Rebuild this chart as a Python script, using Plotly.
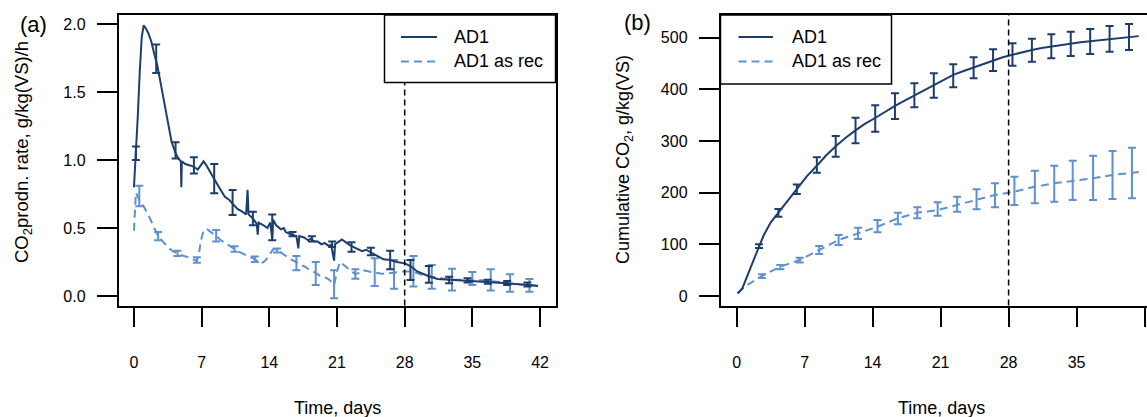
import plotly.graph_objects as go

# ---------------- data ----------------
# Panel (a): CO2 production rate, g/kg(VS)/h
rate_ad1_days = [0.0, 0.1, 0.2, 0.4, 0.6, 0.8, 1.0, 1.2, 1.5, 1.8, 2.1, 2.4, 2.8, 3.2, 3.5, 3.9,
                 4.3, 4.6, 4.85, 4.9, 4.95, 5.3, 5.8, 6.2, 6.6, 7.0, 7.2, 7.5, 8.0, 8.3, 8.8, 9.4,
                 9.8, 10.2, 10.7, 11.2, 11.6, 11.75, 11.85, 12.3, 12.7, 12.8, 12.9, 13.4, 13.8, 14.1,
                 14.3, 14.4, 14.7, 15.2, 15.5, 15.7, 16.0, 16.3, 16.8, 17.0, 17.1, 17.6, 18.0, 18.3,
                 18.7, 19.0, 19.4, 19.7, 20.1, 20.4, 20.7, 20.8, 21.2, 21.5, 22.0, 22.4, 23.0, 23.6,
                 24.0, 24.5, 25.2, 25.8, 26.5, 27.2, 28.0, 28.6, 29.3, 30.5, 31.4, 32.6, 34.5, 36.6,
                 38.6, 40.9, 41.8]
rate_ad1 = [0.80, 0.92, 1.05, 1.33, 1.65, 1.90, 1.99, 1.97, 1.93, 1.87, 1.78, 1.70, 1.55, 1.39, 1.27, 1.13,
            1.05, 1.01, 0.99, 0.80, 0.99, 0.97, 0.96, 0.95, 0.93, 0.97, 0.99, 0.96, 0.89, 0.86, 0.80, 0.73,
            0.71, 0.68, 0.64, 0.62, 0.60, 0.78, 0.60, 0.57, 0.53, 0.45, 0.54, 0.52, 0.50, 0.54,
            0.42, 0.56, 0.52, 0.49, 0.50, 0.47, 0.46, 0.45, 0.44, 0.35, 0.44, 0.43, 0.41, 0.42,
            0.40, 0.40, 0.38, 0.39, 0.37, 0.375, 0.26, 0.38, 0.40, 0.415, 0.39, 0.37, 0.35, 0.33,
            0.34, 0.32, 0.29, 0.27, 0.265, 0.25, 0.24, 0.22, 0.18, 0.145, 0.125, 0.12, 0.115, 0.105,
            0.093, 0.08, 0.074]

rate_rec_days = [0.0, 0.1, 0.2, 0.4, 0.7, 1.0, 1.6, 2.1, 2.5, 3.0, 3.5, 4.0, 4.5, 4.9, 5.6, 6.0, 6.5,
                 6.7, 6.9, 7.2, 7.6, 8.0, 8.5, 9.0, 9.4, 10.0, 10.4, 11.0, 11.6, 12.0, 12.5, 13.2,
                 13.6, 14.0, 14.4, 14.8, 15.6, 16.2, 16.8, 17.2, 17.7, 18.2, 18.8, 19.2, 19.7, 20.2,
                 20.7, 21.0, 21.3, 21.8, 22.3, 22.9, 23.3, 23.7, 24.3, 24.9, 25.5, 26.1, 26.9, 27.7,
                 28.5, 29.2, 30.0, 30.8, 31.8, 32.9, 34.0, 35.0, 36.0, 36.9, 38.0, 38.9, 40.0, 40.9, 41.7]
rate_rec = [0.48, 0.65, 0.76, 0.73, 0.68, 0.66, 0.58, 0.50, 0.44, 0.40, 0.36, 0.33, 0.31, 0.30, 0.285, 0.27, 0.26,
            0.30, 0.40, 0.485, 0.49, 0.47, 0.44, 0.41, 0.39, 0.36, 0.345, 0.32, 0.30, 0.285, 0.27, 0.24,
            0.26, 0.30, 0.345, 0.34, 0.30, 0.27, 0.25, 0.23, 0.215, 0.19, 0.17, 0.15, 0.142, 0.12,
            0.08, 0.18, 0.25, 0.22, 0.19, 0.16, 0.17, 0.19, 0.18, 0.17, 0.165, 0.164, 0.17, 0.18,
            0.18, 0.17, 0.15, 0.14, 0.13, 0.12, 0.12, 0.12, 0.115, 0.11, 0.10, 0.095, 0.085, 0.08, 0.075]

rate_ad1_err_days = [0.2, 2.3, 4.3, 6.2, 8.3, 10.2, 12.3, 14.3, 16.4, 18.4, 20.5, 22.5, 24.5, 26.5,
                     28.6, 30.5, 32.6, 34.5, 36.6, 38.6, 40.7]
rate_ad1_lo = [1.00, 1.64, 1.01, 0.90, 0.755, 0.595, 0.52, 0.41, 0.44, 0.40, 0.36, 0.326, 0.30, 0.196,
               0.118, 0.098, 0.093, 0.10, 0.09, 0.08, 0.07]
rate_ad1_hi = [1.10, 1.85, 1.13, 1.02, 0.97, 0.78, 0.62, 0.60, 0.47, 0.44, 0.40, 0.395, 0.355, 0.333,
               0.265, 0.22, 0.142, 0.13, 0.12, 0.11, 0.10]

rate_rec_err_days = [0.55, 2.5, 4.5, 6.5, 8.5, 10.4, 12.5, 14.8, 16.8, 18.8, 20.7, 22.9, 24.9, 26.9,
                     28.9, 30.8, 32.9, 35.0, 36.9, 38.9, 40.9]
rate_rec_lo = [0.66, 0.41, 0.294, 0.245, 0.40, 0.326, 0.25, 0.32, 0.19, 0.08, -0.017, 0.127, 0.074, 0.054,
               0.069, 0.054, 0.04, 0.08, 0.04, 0.032, 0.032]
rate_rec_hi = [0.81, 0.47, 0.333, 0.285, 0.485, 0.365, 0.29, 0.35, 0.294, 0.25, 0.19, 0.196, 0.277, 0.265,
               0.294, 0.228, 0.20, 0.176, 0.196, 0.16, 0.125]

# Panel (b): cumulative CO2, g/kg(VS)
cum_ad1_days = [0.1, 0.6, 1.5, 2.3, 2.8, 3.5, 4.3, 5.2, 6.2, 7.2, 8.3, 9.2, 10.2, 11.2, 12.2, 13.2,
                14.3, 15.3, 16.3, 17.3, 18.3, 19.3, 20.3, 21.3, 22.3, 23.3, 24.4, 25.4, 26.4, 27.4,
                28.4, 29.4, 30.4, 31.4, 32.4, 33.4, 34.4, 35.4, 36.4, 37.4, 38.4, 39.4, 40.4, 41.4]
cum_ad1 = [5, 15, 58, 97, 118, 142, 161, 184, 207, 231, 253, 272, 290, 306, 320, 333,
           345, 357, 368, 378, 388, 398, 408, 418, 428, 435, 442, 449, 456, 462,
           467, 472, 476, 480, 483, 486, 489, 491, 493, 495, 497, 499, 501, 503]

cum_rec_days = [0.1, 1.0, 2.6, 4.5, 6.5, 8.5, 10.5, 12.5, 14.5, 16.6, 18.6, 20.7, 22.7, 24.7, 26.6,
                28.6, 30.7, 32.7, 34.6, 36.7, 38.7, 40.7, 41.4]
cum_rec = [5, 20, 38.7, 56.8, 69.7, 89, 108.4, 121.3, 134, 150.4, 161.2, 166.4, 176, 185.8, 195.5,
           201.9, 211.5, 218.1, 222.6, 227.8, 234.2, 238.7, 240]

cum_ad1_err_days = [2.3, 4.3, 6.2, 8.26, 10.2, 12.24, 14.27, 16.3, 18.3, 20.3, 22.3, 24.4, 26.4,
                    28.4, 30.4, 32.4, 34.4, 36.4, 38.4, 40.4]
cum_ad1_lo = [93, 153.5, 197.4, 238.7, 269.6, 295.5, 318, 342.6, 365.2, 383.8, 403.9, 421.3, 435.5,
              445.8, 453.5, 460, 464.5, 468.4, 472.8, 476]
cum_ad1_hi = [100, 168.4, 216, 268.4, 309.7, 345.1, 369, 392.3, 411.6, 431, 448.4, 462, 477.4,
              489, 498, 506.5, 511.6, 516.8, 522.5, 526.4]

cum_rec_err_days = [2.6, 4.5, 6.5, 8.5, 10.5, 12.5, 14.5, 16.6, 18.6, 20.7, 22.7, 24.7, 26.6, 28.6,
                    30.7, 32.7, 34.6, 36.7, 38.7, 40.7]
cum_rec_lo = [35, 52, 65, 81.3, 98.7, 110.3, 123.3, 138.8, 150.4, 155.4, 163.2, 167.8, 171.7, 176,
              179.4, 182.5, 185.8, 185.8, 187.7, 189]
cum_rec_hi = [42, 60, 74, 96.8, 118, 132.3, 147, 161.2, 171.7, 181.3, 192.2, 206.5, 218.1, 230.9,
              242.5, 252.2, 261.9, 271.5, 280.6, 287]

x_ticks = [0, 7, 14, 21, 28, 35, 42]
rate_ticks = [0.0, 0.5, 1.0, 1.5, 2.0]
rate_tick_text = ["0.0", "0.5", "1.0", "1.5", "2.0"]
cum_ticks = [0, 100, 200, 300, 400, 500]
series_names = ["AD1", "AD1 as rec"]
cutoff_day = 28

# ---------------- styling ----------------
W, H = 1147, 417
DARK = "#1d3d6c"
LIGHT = "#5e91cd"
FONT = "Arial, Liberation Sans, sans-serif"


def px_x(p):
    return p / W


def px_y(p):
    return 1 - p / H


fig = go.Figure()


def add_err(days, lo, hi, color, xa, ya):
    mid = [(a + b) / 2 for a, b in zip(lo, hi)]
    half = [(b - a) / 2 for a, b in zip(lo, hi)]
    fig.add_trace(go.Scatter(
        x=days, y=mid, mode="markers",
        marker=dict(size=1, color="rgba(0,0,0,0)"),
        error_y=dict(type="data", array=half, visible=True, color=color, thickness=2, width=4),
        xaxis=xa, yaxis=ya, showlegend=False, hoverinfo="skip"))


# Panel a
fig.add_trace(go.Scatter(x=rate_rec_days, y=rate_rec, mode="lines",
                         line=dict(color=LIGHT, width=2, dash="8px,5px"),
                         xaxis="x", yaxis="y", showlegend=False))
add_err(rate_rec_err_days, rate_rec_lo, rate_rec_hi, LIGHT, "x", "y")
fig.add_trace(go.Scatter(x=rate_ad1_days, y=rate_ad1, mode="lines",
                         line=dict(color=DARK, width=2),
                         xaxis="x", yaxis="y", showlegend=False))
add_err(rate_ad1_err_days, rate_ad1_lo, rate_ad1_hi, DARK, "x", "y")

# Panel b
fig.add_trace(go.Scatter(x=cum_rec_days, y=cum_rec, mode="lines",
                         line=dict(color=LIGHT, width=2, dash="8px,5px"),
                         xaxis="x2", yaxis="y2", showlegend=False))
add_err(cum_rec_err_days, cum_rec_lo, cum_rec_hi, LIGHT, "x2", "y2")
fig.add_trace(go.Scatter(x=cum_ad1_days, y=cum_ad1, mode="lines",
                         line=dict(color=DARK, width=2),
                         xaxis="x2", yaxis="y2", showlegend=False))
add_err(cum_ad1_err_days, cum_ad1_lo, cum_ad1_hi, DARK, "x2", "y2")

ydom = [px_y(305.5), px_y(15)]
common_x = dict(tickmode="array", tickvals=x_ticks, ticks="outside", ticklen=20, tickwidth=1.5,
                tickcolor="black", showgrid=False, zeroline=False, showline=True, linecolor="black",
                linewidth=1.5, mirror=True, tickfont=dict(family=FONT, size=16, color="black"),
                ticklabelstandoff=22)
common_y = dict(ticks="outside", ticklen=20, tickwidth=1.5, tickcolor="black", showgrid=False,
                zeroline=False, showline=True, linecolor="black", linewidth=1.5,
                tickfont=dict(family=FONT, size=16, color="black"), ticklabelstandoff=8)

fig.update_layout(
    width=W, height=H, margin=dict(l=0, r=0, t=0, b=0),
    paper_bgcolor="white", plot_bgcolor="white", showlegend=False,
    xaxis=dict(domain=[px_x(118.5), px_x(555.5)], range=[-1.6, 43.6], anchor="y", **common_x),
    yaxis=dict(domain=ydom, range=[-0.07, 2.066], anchor="x", mirror=True,
               tickmode="array", tickvals=rate_ticks, ticktext=rate_tick_text, **common_y),
    xaxis2=dict(domain=[px_x(720.5), 1.0], range=[-1.66, 42.25], anchor="y2", **common_x),
    yaxis2=dict(domain=ydom, range=[-18.4, 543.9], anchor="x2", mirror=False,
                tickmode="array", tickvals=cum_ticks, **common_y),
)

shapes = []
# vertical cut-off lines
for xa, ya in (("x", "y"), ("x2", "y2")):
    shapes.append(dict(type="line", xref=xa, yref=f"{ya} domain", x0=cutoff_day, x1=cutoff_day,
                       y0=0, y1=1, line=dict(color="black", width=1.5, dash="6px,4px")))

annotations = []


def legend(box_x0, box_x1, box_y0, box_y1, line_x0, line_x1, text_x, rows):
    shapes.append(dict(type="rect", xref="paper", yref="paper",
                       x0=px_x(box_x0), x1=px_x(box_x1), y0=px_y(box_y1), y1=px_y(box_y0),
                       line=dict(color="black", width=1.5), fillcolor="white", layer="above"))
    for (name, color, dash), ry in zip(rows, [37, 61.5]):
        shapes.append(dict(type="line", xref="paper", yref="paper",
                           x0=px_x(line_x0), x1=px_x(line_x1), y0=px_y(ry), y1=px_y(ry),
                           line=dict(color=color, width=2, dash=dash), layer="above"))
        annotations.append(dict(text=name, xref="paper", yref="paper", x=px_x(text_x), y=px_y(ry),
                                xanchor="left", yanchor="middle", showarrow=False,
                                font=dict(family=FONT, size=18, color="black")))


rows = [(series_names[0], DARK, "solid"), (series_names[1], LIGHT, "8px,5px")]
legend(384.5, 555.5, 15, 82.5, 401, 437, 452, rows)
legend(720.5, 891.5, 15, 84, 738.5, 773, 790, rows)

# axis titles and panel labels
annotations += [
    dict(text="CO<sub>2</sub>prodn. rate, g/kg(VS)/h", xref="paper", yref="paper",
         x=px_x(23), y=px_y(152), textangle=-90, showarrow=False,
         xanchor="center", yanchor="middle", font=dict(family=FONT, size=18.5, color="black")),
    dict(text="Cumulative CO<sub>2</sub>, g/kg(VS)", xref="paper", yref="paper",
         x=px_x(624), y=px_y(160), textangle=-90, showarrow=False,
         xanchor="center", yanchor="middle", font=dict(family=FONT, size=18, color="black")),
    dict(text="Time, days", xref="paper", yref="paper", x=px_x(337), y=px_y(408),
         showarrow=False, xanchor="center", yanchor="middle",
         font=dict(family=FONT, size=18, color="black")),
    dict(text="Time, days", xref="paper", yref="paper", x=px_x(941), y=px_y(408),
         showarrow=False, xanchor="center", yanchor="middle",
         font=dict(family=FONT, size=18, color="black")),
    dict(text="(a)", xref="paper", yref="paper", x=px_x(33), y=px_y(25),
         showarrow=False, xanchor="center", yanchor="middle",
         font=dict(family=FONT, size=22, color="black")),
    dict(text="(b)", xref="paper", yref="paper", x=px_x(637), y=px_y(23),
         showarrow=False, xanchor="center", yanchor="middle",
         font=dict(family=FONT, size=22, color="black")),
]

fig.update_layout(shapes=shapes, annotations=annotations)
fig.write_html("out.html", config={"displayModeBar": False},
               post_script="document.body.style.margin='0';document.body.style.overflow='hidden';")
